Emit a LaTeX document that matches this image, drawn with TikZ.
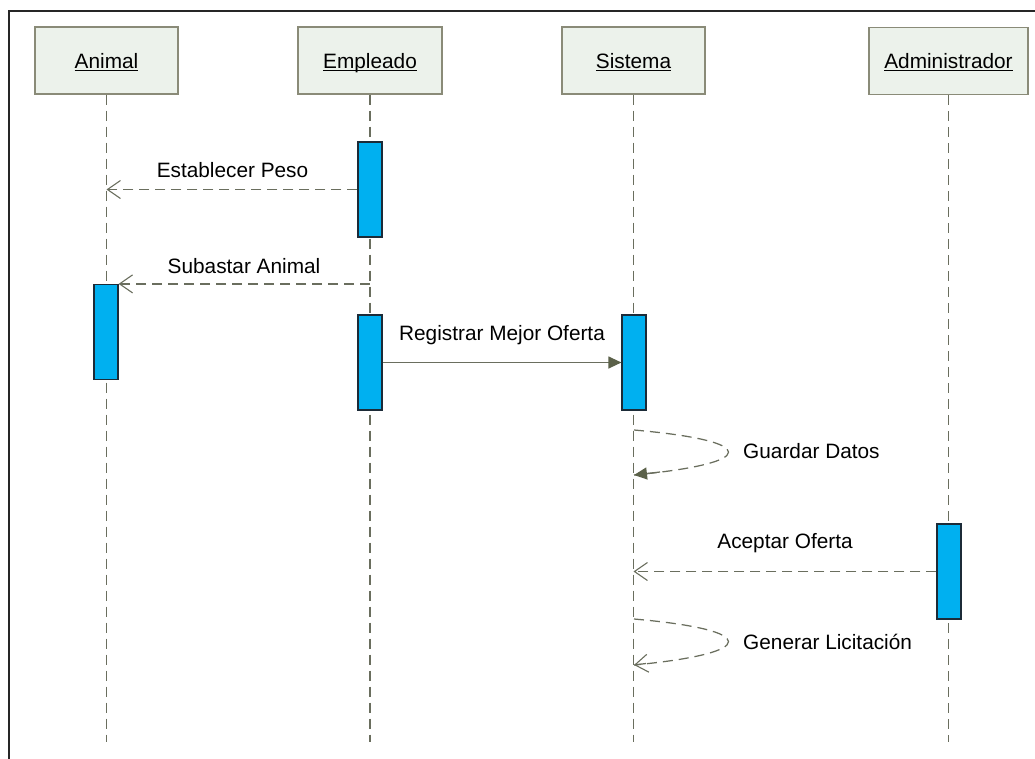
\documentclass[tikz,border=0pt]{standalone}
\usepackage{fontspec}
\setmainfont{Liberation Sans}
\usetikzlibrary{arrows.meta}
\definecolor{headfill}{HTML}{ECF2EB}
\definecolor{headline}{HTML}{8A8B78}
\definecolor{barfill}{HTML}{00B0F0}
\definecolor{barline}{HTML}{1C2B38}
\definecolor{msgline}{HTML}{6A6E5E}
\definecolor{tipfill}{HTML}{5B6149}
% underline at a fixed depth below the baseline
\newcommand\objname[1]{\setbox0\hbox{#1}\rlap{\rule[-2.6pt]{\wd0}{1pt}}\box0}
\begin{document}
\begin{tikzpicture}[x=1pt,y=-1pt,
  lbl/.style={font=\fontsize{20.8}{24}\selectfont, inner sep=0pt},
  headbox/.style={draw=headline, fill=headfill, line width=1.2pt, minimum height=67pt,
    inner sep=0pt, text height=16pt, text depth=1pt, font=\fontsize{20.8}{24}\selectfont},
  actbar/.style={draw=barline, fill=barfill, line width=1.2pt, minimum width=24pt,
    minimum height=95pt, inner sep=0pt},
  lifeline/.style={draw=msgline, line width=1.25pt, dash pattern=on 10pt off 6pt},
  reply/.style={draw=msgline, line width=1.25pt, dash pattern=on 10pt off 6pt,
    -{Straight Barb[length=13pt,width=18pt,line width=1.1pt]}},
  callmsg/.style={draw=msgline, line width=1.25pt,
    -{Triangle[length=13pt,width=12pt,fill=tipfill,color=tipfill]}},
  selfmsg/.style={draw=msgline, line width=1.25pt, dash pattern=on 10pt off 6pt}]
\useasboundingbox (0,0) rectangle (1035,758);

% outer frame
\draw[line width=2pt, black!85] (9,760) -- (9,11) -- (1037,11);

% participants
\node[headbox, minimum width=143pt] (ani) at (106.5,60.5) {\objname{Animal}};
\node[headbox, minimum width=144pt] (emp) at (370,60.5) {\objname{Empleado}};
\node[headbox, minimum width=143pt] (sis) at (633.5,60.5) {\objname{Sistema}};
\node[headbox, minimum width=159pt] (adm) at (948.5,61) {\objname{Administrador}};

% lifeline ends
\coordinate (aniEnd) at (ani.south |- 0,742);
\coordinate (empEnd) at (emp.south |- 0,742);
\coordinate (sisEnd) at (sis.south |- 0,742);
\coordinate (admEnd) at (adm.south |- 0,742);
\draw[lifeline] (ani.south) -- (aniEnd);
\draw[lifeline] (emp.south) -- (empEnd);
\draw[lifeline] (sis.south) -- (sisEnd);
\draw[lifeline] (adm.south) -- (admEnd);

% activation bars
\node[actbar] (e1) at (370,189.5) {};
\node[actbar] (a1) at (106,332) {};
\node[actbar] (e2) at (370,362.5) {};
\node[actbar] (s1) at (634,362.5) {};
\node[actbar] (d1) at (949,571.5) {};

% messages
\draw[reply] (e1.west) -- (e1.west -| ani.south);
\node[lbl, anchor=base] (l1) at (232.5,177) {Establecer Peso};

\draw[reply] (a1.north east -| emp.south) -- (a1.north east);
\node[lbl, anchor=base] (l2) at (244,273) {Subastar Animal};

\draw[callmsg] (e2.east) -- (s1.west);
\node[lbl, anchor=base] (l3) at (502,340) {Registrar Mejor Oferta};

% self message: Guardar Datos
\coordinate (g1) at (634,430);
\coordinate (g2) at (634,475);
\draw[selfmsg] (g1) .. controls (760,441) and (760,463) .. (g2);
\draw[callmsg] (660,472) -- (g2);
\node[lbl, anchor=base west] (l4) at (743,458) {Guardar Datos};

\draw[reply] (d1.west) -- (d1.west -| sis.south);
\node[lbl, anchor=base] (l5) at (785,548) {Aceptar Oferta};

% self message: Generar Licitacion
\coordinate (h1) at (634,619);
\coordinate (h2) at (634,665);
\draw[selfmsg] (h1) .. controls (760,630) and (760,653) .. (h2);
\draw[draw=msgline, line width=1.25pt, -{Straight Barb[length=13pt,width=18pt,line width=1.1pt]}] (646,663.5) -- (h2);
\node[lbl, anchor=base west] (l6) at (743,649) {Generar Licitación};
\end{tikzpicture}
\end{document}
